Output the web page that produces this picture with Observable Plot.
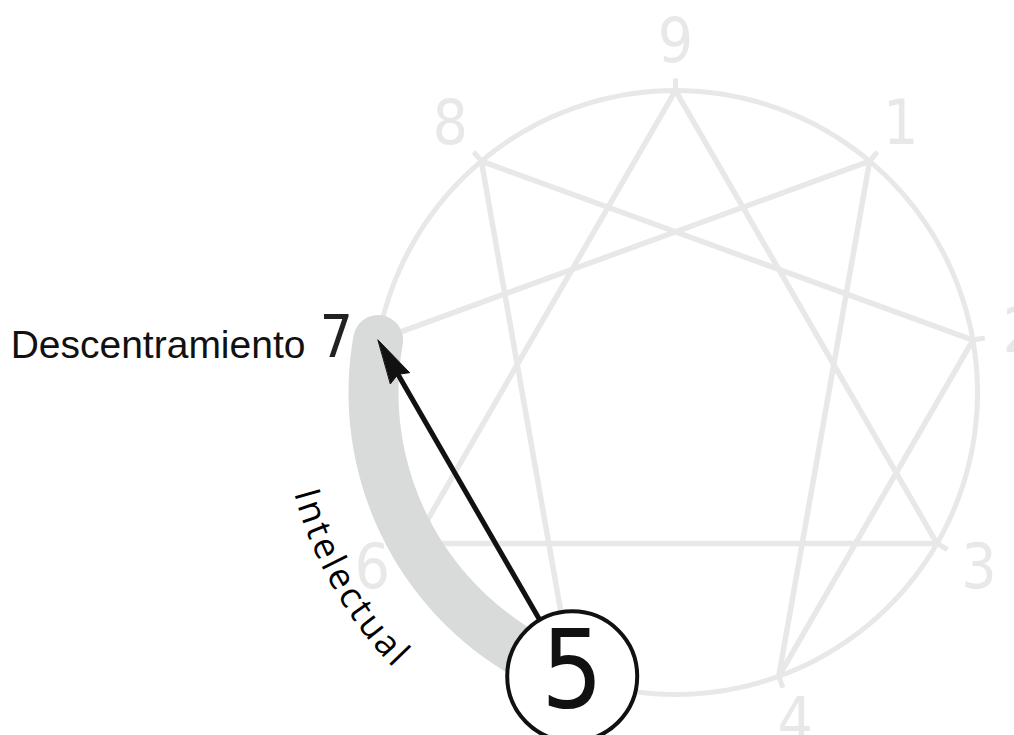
<!DOCTYPE html>
<html><head><meta charset="utf-8">
<script src="https://cdn.jsdelivr.net/npm/d3@7"></script>
<script src="https://cdn.jsdelivr.net/npm/@observablehq/plot@0.6"></script>
<style>body{margin:0;background:#fff;overflow:hidden}</style>
</head><body><div id="chart"></div>
<script>
// ---- data ----
const types = [1, 2, 3, 4, 5, 6, 7, 8, 9];
const triangleLinks = [[9, 3], [3, 6], [6, 9]];
const hexadLinks = [[1, 4], [4, 2], [2, 8], [8, 5], [5, 7], [7, 1]];
const focusType = 5;
const targetType = 7;
const targetLabel = "Descentramiento";
const bandLabel = "Intelectual";
const bandFrom = 7, bandTo = 5;

// ---- geometry helpers ----
const W = 1014, H = 735, cxPx = 675, cyPx = 392, R = 302;
const ang = k => k * 40 * Math.PI / 180;
const pt = (k, r = 1) => ({x: r * Math.sin(ang(k)), y: r * Math.cos(ang(k))});
const circlePts = d3.range(0, 9, 0.05).map(k => pt(k));
const bandPts = d3.range(bandFrom, bandTo - 0.001, -0.05).map(k => pt(k));
const links = [...triangleLinks, ...hexadLinks];
const tip = pt(targetType), from = pt(focusType);
const dl = Math.hypot(from.x - tip.x, from.y - tip.y);
const u = {x: (from.x - tip.x) / dl, y: (from.y - tip.y) / dl};
const hl = 44 / R, hw = 11 / R;
const headPts = [
  tip,
  {x: tip.x + u.x * hl - u.y * hw, y: tip.y + u.y * hl + u.x * hw},
  {x: tip.x + u.x * hl * 0.9, y: tip.y + u.y * hl * 0.9},
  {x: tip.x + u.x * hl + u.y * hw, y: tip.y + u.y * hl - u.x * hw}
];
const light = "#e8e8e8";
const digitFont = "'Liberation Sans Narrow', 'DejaVu Sans Condensed', 'Roboto', sans-serif";
const LR = 1.16;

const plot = Plot.plot({
  width: W, height: H, margin: 0,
  x: {domain: [-cxPx / R, (W - cxPx) / R], range: [0, W], axis: null},
  y: {domain: [-(H - cyPx) / R, cyPx / R], range: [H, 0], axis: null},
  marks: [
    Plot.line(circlePts, {x: "x", y: "y", curve: "linear-closed", stroke: light, strokeWidth: 5}),
    Plot.link(links, {x1: d => pt(d[0]).x, y1: d => pt(d[0]).y, x2: d => pt(d[1]).x, y2: d => pt(d[1]).y,
      stroke: light, strokeWidth: 5.5, strokeLinecap: "round"}),
    Plot.link(types, {x1: k => pt(k).x, y1: k => pt(k).y, x2: k => pt(k, 1.04).x, y2: k => pt(k, 1.04).y,
      stroke: light, strokeWidth: 5}),
    Plot.text(types.filter(k => k !== targetType && k !== focusType), {x: k => pt(k, LR).x, y: k => pt(k, LR).y,
      text: k => String(k), fontSize: 62, fill: "#e8e8e8", fontFamily: digitFont}),
    Plot.line(bandPts, {x: "x", y: "y", stroke: "#d9dbdb", strokeWidth: 50, strokeLinecap: "round"}),
    Plot.arrow([{a: focusType, b: targetType}], {x1: d => pt(d.a).x, y1: d => pt(d.a).y, x2: d => pt(d.b).x, y2: d => pt(d.b).y,
      insetStart: 64, insetEnd: 35, headLength: 0, stroke: "#111", strokeWidth: 5}),
    Plot.line(headPts, {x: "x", y: "y", curve: "linear-closed", fill: "#111", stroke: "#111", strokeWidth: 1}),
    Plot.dot([focusType], {x: k => pt(k).x, y: k => pt(k).y, r: 65, fill: "white", stroke: "#111", strokeWidth: 4}),
    Plot.text([focusType], {x: k => pt(k).x, y: k => pt(k).y, dy: -4, text: k => String(k), fontSize: 108, fill: "#111", fontFamily: digitFont}),
    Plot.text([targetType], {x: k => pt(k, 1.14).x, y: k => pt(k, 1.14).y, dy: 6, text: k => String(k), fontSize: 58, fill: "#222", fontFamily: digitFont}),
    Plot.text([targetType], {x: k => pt(k, 1.14).x, y: k => pt(k, 1.14).y, dx: -31, dy: 13, text: () => targetLabel,
      textAnchor: "end", fontSize: 39, fill: "#111", fontFamily: "'Liberation Sans', Arial, sans-serif"})
  ]
});

// curved label along the band, placed with Plot's own scales
const sx = plot.scale("x"), sy = plot.scale("y");
const rr = 1.305, rpx = rr * R;
const p0 = pt(6.38, rr), p1 = pt(5.2, rr);
const svg = d3.select(plot);
svg.append("path").attr("id", "bandArc").attr("fill", "none")
  .attr("d", `M${sx.apply(p0.x)},${sy.apply(p0.y)}A${rpx},${rpx} 0 0 0 ${sx.apply(p1.x)},${sy.apply(p1.y)}`);
svg.append("text").attr("font-family", "'Open Sans', sans-serif").attr("font-size", 36)
  .attr("text-anchor", "start").attr("letter-spacing", 2.8).attr("fill", "#000")
  .append("textPath").attr("href", "#bandArc").attr("startOffset", 0).text(bandLabel);

document.getElementById("chart").append(plot);
</script>
</body></html>
